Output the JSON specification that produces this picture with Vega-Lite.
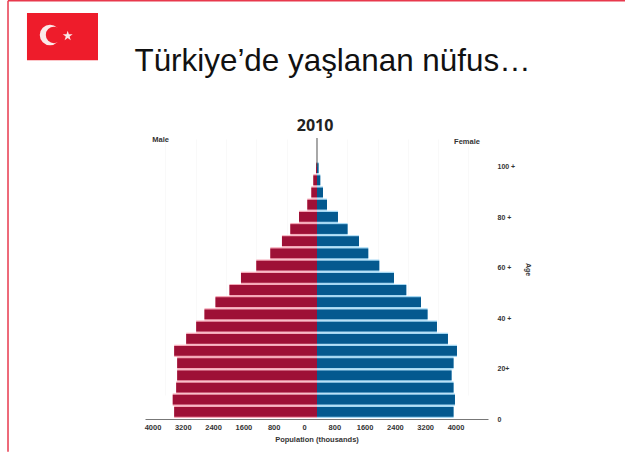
{"$schema":"https://vega.github.io/schema/vega-lite/v6.json","width":343,"height":281,"autosize":{"type":"none"},"padding":{"left":145,"top":138,"right":137,"bottom":33},"background":"#ffffff","config":{"view":{"stroke":null}},
"title":{"text":"Türkiye’de yaşlanan nüfus…","font":"Liberation Sans","fontSize":31.4,"fontWeight":"normal","color":"#111111","anchor":"middle","dx":16,"offset":-77},
"datasets":{"pyramid":[
{"age":"100+","population":-26},{"age":"95-99","population":-98},{"age":"90-94","population":-150},{"age":"85-89","population":-256},{"age":"80-84","population":-475},{"age":"75-79","population":-705},{"age":"70-74","population":-925},{"age":"65-69","population":-1233},{"age":"60-64","population":-1603},{"age":"55-59","population":-2007},{"age":"50-54","population":-2312},{"age":"45-49","population":-2681},{"age":"40-44","population":-2972},{"age":"35-39","population":-3190},{"age":"30-34","population":-3454},{"age":"25-29","population":-3771},{"age":"20-24","population":-3692},{"age":"15-19","population":-3692},{"age":"10-14","population":-3718},{"age":"5-9","population":-3809},{"age":"0-4","population":-3771},
{"age":"100+","population":42},{"age":"95-99","population":87},{"age":"90-94","population":158},{"age":"85-89","population":264},{"age":"80-84","population":554},{"age":"75-79","population":808},{"age":"70-74","population":1109},{"age":"65-69","population":1354},{"age":"60-64","population":1645},{"age":"55-59","population":2033},{"age":"50-54","population":2358},{"age":"45-49","population":2746},{"age":"40-44","population":2920},{"age":"35-39","population":3168},{"age":"30-34","population":3458},{"age":"25-29","population":3696},{"age":"20-24","population":3606},{"age":"15-19","population":3554},{"age":"10-14","population":3606},{"age":"5-9","population":3643},{"age":"0-4","population":3606}]},
"resolve":{"scale":{"y":"independent"},"axis":{"y":"independent"}},
"layer":[
{"data":{"name":"pyramid"},"mark":{"type":"bar"},"encoding":{
"x":{"field":"population","type":"quantitative","stack":null,"scale":{"domain":[-4541,4515],"nice":false,"zero":false},"axis":{"values":[-4000,-3200,-2400,-1600,-800,0,800,1600,2400,3200,4000],"tickCount":11,"labelExpr":"abs(datum.value)","labelOffset":-13,"labelFontSize":7.5,"labelFontWeight":"bold","labelFont":"Liberation Sans","labelColor":"#333333","labelPadding":4,"labelBound":false,"labelFlush":false,"labelOverlap":false,"ticks":false,"domainColor":"#777777","domainWidth":1,"grid":true,"gridColor":"#f9f9f9","title":"Population (thousands)","titleFontSize":7.5,"titleFontWeight":"bold","titleFont":"Liberation Sans","titleColor":"#333333","titlePadding":5}},
"y":{"field":"age","type":"nominal","sort":null,"axis":null,"scale":{"domain":["0-4","5-9","10-14","15-19","20-24","25-29","30-34","35-39","40-44","45-49","50-54","55-59","60-64","65-69","70-74","75-79","80-84","85-89","90-94","95-99","100+"],"range":[280,24],"paddingInner":0,"paddingOuter":0}},
"fill":{"condition":{"test":"datum.population<0","value":"#f5a9b8"},"value":"#a5d8f3"}}},
{"data":{"name":"pyramid"},"mark":{"type":"bar"},"encoding":{
"x":{"field":"population","type":"quantitative","stack":null},
"y":{"field":"age","type":"nominal","sort":null,"axis":null,"scale":{"domain":["0-4","5-9","10-14","15-19","20-24","25-29","30-34","35-39","40-44","45-49","50-54","55-59","60-64","65-69","70-74","75-79","80-84","85-89","90-94","95-99","100+"],"range":[280,24],"paddingInner":0.2,"paddingOuter":0.1}},
"fill":{"condition":{"test":"datum.population<0","value":"#9e1036"},"value":"#04598f"}}},
{"data":{"values":[{"x":-8158,"x2":8132,"y":166,"y2":166},{"x":-8158,"x2":-8158,"y":166,"y2":-13}]},"mark":{"type":"rule","color":"#e8394d","strokeWidth":1.5},"encoding":{"x":{"field":"x","type":"quantitative"},"x2":{"field":"x2"},"y":{"field":"y","type":"quantitative","axis":null,"scale":{"domain":[0,111.5],"nice":false,"zero":false}},"y2":{"field":"y2"}}},
{"data":{"values":[{"x":-7657,"x2":-5782,"y":161.1,"y2":142.4}]},"mark":{"type":"rect","color":"#ee1c2b"},"encoding":{"x":{"field":"x","type":"quantitative"},"x2":{"field":"x2"},"y":{"field":"y","type":"quantitative","axis":null,"scale":{"domain":[0,111.5],"nice":false,"zero":false}},"y2":{"field":"y2"}}},
{"data":{"values":[{"x":-7049,"y":152.4}]},"mark":{"type":"point","shape":"circle","filled":true,"opacity":1,"color":"#fbe9e9","size":420},"encoding":{"x":{"field":"x","type":"quantitative"},"y":{"field":"y","type":"quantitative","axis":null,"scale":{"domain":[0,111.5],"nice":false,"zero":false}}}},
{"data":{"values":[{"x":-6943,"y":152.4}]},"mark":{"type":"point","shape":"circle","filled":true,"opacity":1,"color":"#ee1c2b","size":270},"encoding":{"x":{"field":"x","type":"quantitative"},"y":{"field":"y","type":"quantitative","axis":null,"scale":{"domain":[0,111.5],"nice":false,"zero":false}}}},
{"data":{"values":[{"x":-6582,"y":152}]},"mark":{"type":"point","shape":"M0,-1L0.225,-0.309L0.951,-0.309L0.363,0.118L0.588,0.809L0,0.382L-0.588,0.809L-0.363,0.118L-0.951,-0.309L-0.225,-0.309Z","filled":true,"opacity":1,"color":"#fbe9e9","size":110},"encoding":{"x":{"field":"x","type":"quantitative"},"y":{"field":"y","type":"quantitative","axis":null,"scale":{"domain":[0,111.5],"nice":false,"zero":false}}}},
{"data":{"values":[{"x":0,"y":111.5,"y2":100}]},"mark":{"type":"rule","color":"#555555","strokeWidth":1},"encoding":{"x":{"field":"x","type":"quantitative"},"y":{"field":"y","type":"quantitative","axis":null,"scale":{"domain":[0,111.5],"nice":false,"zero":false}},"y2":{"field":"y2"}}},
{"data":{"values":[{"age":0},{"age":20},{"age":40},{"age":60},{"age":80},{"age":100}]},"mark":{"type":"point","opacity":0},"encoding":{
"y":{"field":"age","type":"quantitative","scale":{"domain":[0,111.5],"nice":false,"zero":false},"axis":{"orient":"right","values":[0,20,40,60,80,100],"labelExpr":"datum.value==0?'0':datum.value==20?'20+':datum.value+' +'","labelFontSize":7,"labelFontWeight":"bold","labelFont":"Liberation Sans","labelColor":"#333333","labelPadding":9,"ticks":false,"domain":false,"grid":false,"title":"Age","titleFontSize":7,"titleFontWeight":"bold","titleFont":"Liberation Sans","titleColor":"#333333","titleX":36,"titleY":131}}}},
{"data":{"values":[{"label":"Male","x":-4130,"y":110.8},{"label":"Female","x":3960,"y":110}]},"mark":{"type":"text","fontSize":7.5,"fontWeight":"bold","font":"Liberation Sans","color":"#333333"},"encoding":{"text":{"field":"label"},"x":{"field":"x","type":"quantitative"},"y":{"field":"y","type":"quantitative","axis":null,"scale":{"domain":[0,111.5],"nice":false,"zero":false}}}},
{"data":{"values":[{"label":"2010","x":-50,"y":116.4}]},"mark":{"type":"text","fontSize":16,"fontWeight":"bold","font":"Open Sans","color":"#222222"},"encoding":{"text":{"field":"label"},"x":{"field":"x","type":"quantitative"},"y":{"field":"y","type":"quantitative","axis":null,"scale":{"domain":[0,111.5],"nice":false,"zero":false}}}}
]}
